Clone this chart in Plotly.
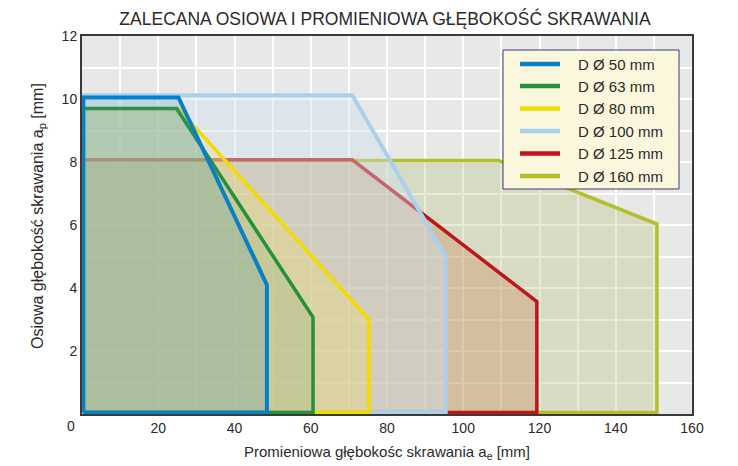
import plotly.graph_objects as go

# Series data (polygon vertices: radial depth ae [mm], axial depth ap [mm])
names = ["D Ø 50 mm", "D Ø 63 mm", "D Ø 80 mm", "D Ø 100 mm", "D Ø 125 mm", "D Ø 160 mm"]
ae_d50 = [0.35, 0.35, 25.3, 48.5, 48.5, 0.35]
ap_d50 = [0.05, 10.05, 10.05, 4.1, 0.05, 0.05]
ae_d63 = [0.35, 0.35, 24.8, 60.6, 60.6, 0.35]
ap_d63 = [0.05, 9.7, 9.7, 3.07, 0.05, 0.05]
ae_d80 = [0.35, 0.35, 25.2, 75.3, 75.3, 0.35]
ap_d80 = [0.05, 9.7, 9.7, 3.0, 0.05, 0.05]
ae_d100 = [0.35, 0.35, 70.9, 95.4, 95.4, 0.35]
ap_d100 = [0.05, 10.12, 10.12, 5.0, 0.05, 0.05]
ae_d125 = [0.35, 0.35, 70.9, 119.3, 119.3, 0.35]
ap_d125 = [0.05, 8.07, 8.07, 3.57, 0.05, 0.05]
ae_d160 = [0.35, 0.35, 109.2, 150.8, 150.8, 0.35]
ap_d160 = [0.05, 8.05, 8.05, 6.03, 0.05, 0.05]

x_ticks = [20, 40, 60, 80, 100, 120, 140, 160]
y_ticks = [2, 4, 6, 8, 10, 12]

line_colors = ["#0a80c4", "#25913a", "#f2dc00", "#a9d0ec", "#c0161b", "#b3bf2b"]
fill_colors = ["rgba(70,150,190,0.2)", "rgba(130,170,110,0.25)", "rgba(245,225,100,0.3)",
               "rgba(205,226,240,0.4)", "rgba(199,126,78,0.3)", "rgba(179,189,109,0.3)"]
widths = [4, 3.5, 3.5, 4, 3.5, 3.5]

series = [(ae_d50, ap_d50), (ae_d63, ap_d63), (ae_d80, ap_d80),
          (ae_d100, ap_d100), (ae_d125, ap_d125), (ae_d160, ap_d160)]

W, H = 738, 466
ML, MR, MT, MB = 74, 54, 28, 60
PW, PH = W - ML - MR, H - MT - MB


def px(fx):
    return (fx - ML) / PW


def py(fy):
    return 1 - (fy - MT) / PH


fig = go.Figure()
for i in reversed(range(6)):
    xs, ys = series[i]
    fig.add_trace(go.Scatter(
        x=xs, y=ys, mode="lines", name=names[i], fill="toself",
        fillcolor=fill_colors[i],
        line=dict(color=line_colors[i], width=widths[i]),
        showlegend=False, hoverinfo="skip"))

font_fam = "Liberation Sans Narrow, Arial Narrow, Liberation Sans, Arial, sans-serif"
txt_col = "#2a2a2a"

fig.update_layout(
    width=W, height=H,
    margin=dict(l=ML, r=MR, t=MT, b=MB, autoexpand=False),
    paper_bgcolor="white", plot_bgcolor="#e8e8e8",
    font=dict(family=font_fam, color=txt_col, size=14),
    title=dict(text="ZALECANA OSIOWA I PROMIENIOWA GŁĘBOKOŚĆ SKRAWANIA",
               x=377 / W, xanchor="center", y=1 - 10.5 / H, yanchor="middle",
               font=dict(size=17.5, family=font_fam, color=txt_col)),
    showlegend=False,
    xaxis=dict(range=[0, 160], tickvals=x_ticks, showgrid=True, gridcolor="#ffffff",
               gridwidth=1.5, zeroline=False, showline=True, linecolor="#3a3a3a",
               linewidth=2, mirror=True, ticks="", ticklen=0, automargin=False,
               tickfont=dict(size=14, family=font_fam, color=txt_col),
               minor=dict(dtick=10, tick0=0, showgrid=True, gridcolor="#ffffff", gridwidth=1.5),
               title=dict(text="Promieniowa głębokośc skrawania a<sub>e</sub> [mm]",
                          font=dict(size=15, family=font_fam, color=txt_col), standoff=12)),
    yaxis=dict(range=[0, 12], tickvals=y_ticks, showgrid=True, gridcolor="#ffffff",
               gridwidth=1.5, zeroline=False, showline=True, linecolor="#3a3a3a",
               linewidth=2, mirror=True, ticks="", ticklen=0, automargin=False,
               tickfont=dict(size=14, family=font_fam, color=txt_col),
               minor=dict(dtick=1, tick0=0, showgrid=True, gridcolor="#ffffff", gridwidth=1.5)),
)

# corner zero label
fig.add_annotation(x=0, y=0, xref="x", yref="y", text="0", showarrow=False,
                   xshift=-11, yshift=-12,
                   font=dict(size=14, family=font_fam, color=txt_col))

# y-axis title
fig.add_annotation(x=px(30), y=py(208), xref="paper", yref="paper",
                   text="Osiowa głębokość skrawania a<sub>p</sub> [mm]", textangle=-90,
                   showarrow=False, xanchor="center", yanchor="middle",
                   font=dict(size=16, family=font_fam, color=txt_col))

# legend box
fig.add_shape(type="rect", xref="paper", yref="paper",
              x0=px(495), x1=px(671), y0=py(181), y1=py(42),
              fillcolor="#fbf7dc", line=dict(color="#3b3a78", width=1), layer="above")
entry_y = [56, 78, 100.5, 123, 145.5, 168]
for i in range(6):
    fig.add_shape(type="line", xref="paper", yref="paper",
                  x0=px(512), x1=px(552), y0=py(entry_y[i]), y1=py(entry_y[i]),
                  line=dict(color=line_colors[i], width=4.5), layer="above")
    fig.add_annotation(x=px(568), y=py(entry_y[i]), xref="paper", yref="paper",
                       text=names[i], showarrow=False, xanchor="left", yanchor="middle",
                       font=dict(size=15, family=font_fam, color=txt_col))

fig.write_html("out.html")
